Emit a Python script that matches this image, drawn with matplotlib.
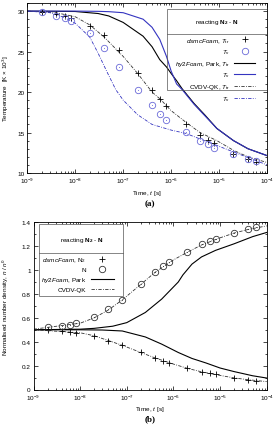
import numpy as np
import matplotlib
matplotlib.use("Agg")
import matplotlib.pyplot as plt
from matplotlib.lines import Line2D
from matplotlib.patches import Rectangle
from matplotlib.ticker import FixedLocator, MultipleLocator, NullFormatter

plt.rcParams['font.family'] = ['Liberation Sans', 'DejaVu Sans']
plt.rcParams['mathtext.fontset'] = 'custom'
plt.rcParams['mathtext.rm'] = 'Liberation Sans'
plt.rcParams['mathtext.it'] = 'Liberation Sans:italic'
plt.rcParams['mathtext.bf'] = 'Liberation Sans:bold'

# ---------------- data: panel (a) ----------------
t_dsmc = [2e-9, 4e-9, 6e-9, 8e-9, 2e-8, 4e-8, 8e-8, 2e-7, 4e-7, 6e-7, 8e-7,
          2e-6, 4e-6, 6e-6, 8e-6, 2e-5, 4e-5, 6e-5]
Ttr_dsmc = [29.9, 29.7, 29.4, 29.2, 28.2, 27.0, 25.2, 22.4, 20.3, 19.2, 18.3,
            16.1, 14.7, 14.1, 13.7, 12.4, 11.7, 11.3]
Tv_dsmc = [29.9, 29.4, 29.1, 28.8, 27.3, 25.5, 23.1, 20.2, 18.4, 17.3, 16.6,
           15.05, 14.0, 13.6, 13.1, 12.4, 11.7, 11.5]

t_hy2 = [1e-9, 1e-8, 3e-8, 5e-8, 1e-7, 2.6e-7, 4e-7, 5.8e-7, 8e-7, 1e-6, 1.3e-6,
         1.7e-6, 3e-6, 5e-6, 9e-6, 2e-5, 4e-5, 1e-4]
Ttr_hy2 = [30.0, 29.95, 29.7, 29.4, 28.6, 26.9, 25.6, 24.0, 23.1, 22.3, 21.4,
           20.4, 18.6, 17.2, 15.5, 14.0, 13.0, 12.15]
Tv_hy2 = [30.0, 30.0, 29.97, 29.93, 29.8, 29.0, 28.0, 26.5, 24.4, 22.6, 21.0,
          20.3, 18.5, 17.1, 15.5, 14.0, 13.0, 12.15]

t_cv_tr = [1e-9, 4e-9, 1e-8, 2e-8, 4e-8, 1e-7, 2e-7, 4e-7, 6e-7, 1e-6, 2e-6,
           4e-6, 9e-6, 2e-5, 4e-5, 1e-4]
Ttr_cv = [30.0, 29.8, 29.3, 28.3, 26.8, 24.4, 22.3, 20.0, 19.1, 17.7, 16.3,
          15.0, 14.0, 12.8, 12.0, 11.3]
t_cv_v = [1e-9, 3e-9, 6e-9, 1e-8, 2e-8, 3e-8, 4.5e-8, 7e-8, 1e-7, 2e-7, 4e-7,
          1e-6, 2e-6, 9e-6, 3e-5, 1e-4]
Tv_cv = [30.0, 29.8, 29.2, 28.5, 26.8, 24.8, 22.6, 20.3, 19.0, 17.2, 16.0,
         15.3, 14.9, 13.4, 12.2, 11.0]

# ---------------- data: panel (b) ----------------
N2_dsmc = [0.50, 0.487, 0.484, 0.477, 0.45, 0.41, 0.373, 0.31, 0.26, 0.238,
           0.225, 0.177, 0.149, 0.138, 0.127, 0.096, 0.082, 0.074]
N_dsmc = [0.52, 0.53, 0.54, 0.553, 0.605, 0.67, 0.752, 0.885, 0.983, 1.033,
          1.065, 1.153, 1.215, 1.24, 1.26, 1.31, 1.34, 1.357]

t_hyN = [1e-9, 1e-8, 2e-8, 5e-8, 1e-7, 2.5e-7, 5.6e-7, 1.27e-6, 1.6e-6, 2.5e-6,
         4e-6, 8e-6, 2e-5, 5e-5, 1e-4]
N_hy2 = [0.5, 0.505, 0.512, 0.53, 0.56, 0.645, 0.757, 0.9, 0.96, 1.05,
         1.11, 1.165, 1.22, 1.28, 1.315]
t_hyN2 = [1e-9, 1e-8, 3e-8, 8e-8, 2.5e-7, 5.6e-7, 1.27e-6, 2.5e-6, 5e-6, 1e-5,
          2e-5, 5e-5, 1e-4]
N2_hy2 = [0.5, 0.5, 0.498, 0.49, 0.44, 0.38, 0.31, 0.26, 0.222, 0.18,
          0.15, 0.115, 0.096]

t_cvN = [1e-9, 1e-8, 2e-8, 4e-8, 8e-8, 2e-7, 4e-7, 1e-6, 2e-6, 4e-6, 1e-5,
         2e-5, 4e-5, 1e-4]
N_cv = [0.505, 0.555, 0.6, 0.665, 0.75, 0.88, 0.98, 1.085, 1.15, 1.21, 1.27,
        1.31, 1.34, 1.37]
N2_cv = [0.5, 0.475, 0.45, 0.41, 0.37, 0.31, 0.265, 0.213, 0.177, 0.148, 0.118,
         0.097, 0.082, 0.066]

x_ticks = [1e-9, 1e-8, 1e-7, 1e-6, 1e-5, 1e-4]
x_ticklabels = [r'10$^{-9}$', r'10$^{-8}$', r'10$^{-7}$', r'10$^{-6}$', r'10$^{-5}$', r'10$^{-4}$']

# ---------------- styling ----------------
W, H = 275, 427
fig = plt.figure(figsize=(W / 100, H / 100), dpi=100)
BLUE = '#3434c0'
CIRC = '#6a6ad8'
DASHDOT = (0, (4, 1.6, 1, 1.6))
FS = 4.6
LW = 0.8


def fr(x0, y0, x1, y1):
    return [x0 / W, 1 - y1 / H, (x1 - x0) / W, (y1 - y0) / H]


def style_axes(ax):
    ax.set_xscale('log')
    ax.set_xlim(1e-9, 1e-4)
    ax.set_xticks(x_ticks)
    ax.set_xticklabels(x_ticklabels)
    minors = [m * d for d in x_ticks[:-1] for m in range(2, 10)]
    ax.xaxis.set_minor_locator(FixedLocator(minors))
    ax.xaxis.set_minor_formatter(NullFormatter())
    ax.tick_params(which='both', direction='in', top=True, right=True,
                   labelsize=FS, width=0.5, pad=2)
    ax.tick_params(which='major', length=3)
    ax.tick_params(which='minor', length=1.5)
    for s in ax.spines.values():
        s.set_linewidth(0.6)
    ax.set_xlabel(r'Time, $\mathit{t}$ [s]', fontsize=FS, labelpad=2)


# ================= panel (a) =================
ax1 = fig.add_axes(fr(27.3, 4, 267, 174))
style_axes(ax1)
ax1.set_ylim(10, 31)
ax1.yaxis.set_major_locator(MultipleLocator(5))
ax1.yaxis.set_minor_locator(MultipleLocator(1))
ax1.set_ylabel(r'Temperature  [K $\times$ 10$^3$]', fontsize=FS)
ax1.yaxis.set_label_coords(-(27.3 - 11) / (267 - 27.3), 0.5)

ax1.plot(t_hy2, Ttr_hy2, color='black', lw=LW)
ax1.plot(t_hy2, Tv_hy2, color=BLUE, lw=LW)
ax1.plot(t_cv_tr, Ttr_cv, color='#333333', lw=0.6, ls=DASHDOT)
ax1.plot(t_cv_v, Tv_cv, color=BLUE, lw=0.6, ls=DASHDOT)
ax1.plot(t_dsmc, Ttr_dsmc, ls='none', marker='+', ms=4.5, mew=0.6, color='black')
ax1.plot(t_dsmc, Tv_dsmc, ls='none', marker='o', ms=4.6, mew=0.6, mfc='none', mec=CIRC)
ax1.plot(t_dsmc, Tv_dsmc, ls='none', marker='o', ms=0.6, mew=0, color=CIRC)

# legend box with header
x0a, x1a = 0.583, 1.0
ax1.add_patch(Rectangle((x0a, 0.488), x1a - x0a, 0.965 - 0.488, transform=ax1.transAxes,
                        fill=False, ec='#555555', lw=0.5, zorder=5))
ax1.plot([x0a, x1a], [0.818, 0.818], transform=ax1.transAxes, color='#555555', lw=0.5, zorder=6)
ax1.text((x0a + x1a) / 2, 0.89, r'reacting $\mathbf{N_2}$ - $\mathbf{N}$', transform=ax1.transAxes,
         ha='center', va='center', fontsize=FS, zorder=7)
hA = [Line2D([], [], ls='none', marker='+', ms=4.5, mew=0.6, color='black'),
      Line2D([], [], ls='none', marker='o', ms=4.6, mew=0.6, mfc='none', mec=CIRC),
      Line2D([], [], color='black', lw=LW),
      Line2D([], [], color=BLUE, lw=LW),
      Line2D([], [], color='#333333', lw=0.6, ls=DASHDOT),
      Line2D([], [], color=BLUE, lw=0.6, ls=DASHDOT)]
lA = [r'$\mathit{dsmcFoam}$, $T_{\rm tr}$', r'$T_{\rm v}$',
      r'$\mathit{hy2Foam}$, Park, $T_{\rm tr}$', r'$T_{\rm v}$',
      r'CVDV-QK, $T_{\rm tr}$', r'$T_{\rm v}$']
legA = ax1.legend(hA, lA, loc='upper right', bbox_to_anchor=(0.955, 0.815),
                  frameon=False, fontsize=FS, markerfirst=False, handlelength=3.2,
                  handletextpad=0.7, labelspacing=0.42, borderaxespad=0, borderpad=0.2)
legA.set_zorder(8)

# ================= panel (b) =================
ax2 = fig.add_axes(fr(33.5, 223.3, 266.7, 390.5))
style_axes(ax2)
ax2.set_ylim(0, 1.4)
ax2.set_yticks([0, 0.2, 0.4, 0.6, 0.8, 1.0, 1.2, 1.4])
ax2.set_yticklabels(['0', '0.2', '0.4', '0.6', '0.8', '1', '1.2', '1.4'])
ax2.yaxis.set_minor_locator(MultipleLocator(0.1))
ax2.set_ylabel(r'Normalised number density, $\mathit{n}$ / $\mathit{n}^0$', fontsize=FS)
ax2.yaxis.set_label_coords(-(33.5 - 11) / (266.7 - 33.5), 0.5)

ax2.plot(t_hyN, N_hy2, color='black', lw=LW)
ax2.plot(t_hyN2, N2_hy2, color='black', lw=LW)
ax2.plot(t_cvN, N_cv, color='#333333', lw=0.6, ls=DASHDOT)
ax2.plot(t_cvN, N2_cv, color='#333333', lw=0.6, ls=DASHDOT)
ax2.plot(t_dsmc, N2_dsmc, ls='none', marker='+', ms=4.5, mew=0.6, color='black')
ax2.plot(t_dsmc, N_dsmc, ls='none', marker='o', ms=4.6, mew=0.6, mfc='none', mec='#333333')
ax2.plot(t_dsmc, N_dsmc, ls='none', marker='o', ms=0.6, mew=0, color='#333333')

x0b, x1b = 0.025, 0.385
ax2.add_patch(Rectangle((x0b, 0.557), x1b - x0b, 0.99 - 0.557, transform=ax2.transAxes,
                        fill=True, fc='white', ec='#555555', lw=0.5, zorder=5))
ax2.plot([x0b, x1b], [0.815, 0.815], transform=ax2.transAxes, color='#555555', lw=0.5, zorder=6)
ax2.text((x0b + x1b) / 2, 0.90, r'reacting $\mathbf{N_2}$ - $\mathbf{N}$', transform=ax2.transAxes,
         ha='center', va='center', fontsize=FS, zorder=7)
hB = [Line2D([], [], ls='none', marker='+', ms=4.5, mew=0.6, color='black'),
      Line2D([], [], ls='none', marker='o', ms=4.6, mew=0.6, mfc='none', mec='#333333'),
      Line2D([], [], color='black', lw=LW),
      Line2D([], [], color='#333333', lw=0.6, ls=DASHDOT)]
lB = [r'$\mathit{dsmcFoam}$, N$_2$', 'N', r'$\mathit{hy2Foam}$, Park', 'CVDV-QK']
legB = ax2.legend(hB, lB, loc='upper right', bbox_to_anchor=(0.35, 0.812),
                  frameon=False, fontsize=FS, markerfirst=False, handlelength=3.6,
                  handletextpad=0.7, labelspacing=0.45, borderaxespad=0, borderpad=0.2)
legB.set_zorder(8)

fig.text(150 / W, 1 - 204 / H, '(a)', ha='center', va='center', fontsize=6.5,
         family='Liberation Serif', weight='bold')
fig.text(150 / W, 1 - 419 / H, '(b)', ha='center', va='center', fontsize=6.5,
         family='Liberation Serif', weight='bold')

fig.savefig('out.png', dpi=100)
